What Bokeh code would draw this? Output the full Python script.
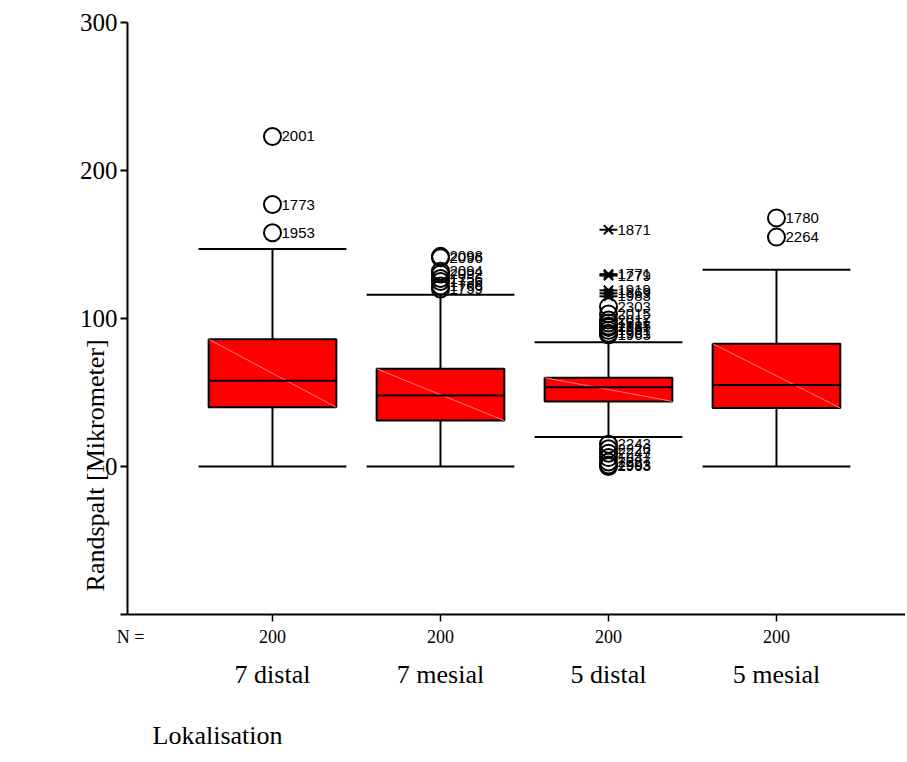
import math
import numpy as np
from bokeh.plotting import figure
from bokeh.models import Range1d, FixedTicker, LinearAxis, ColumnDataSource
from bokeh.core.properties import value
from bokeh.embed import file_html
from bokeh.resources import INLINE

# ---------------- data ----------------
categories = ["7 distal", "7 mesial", "5 distal", "5 mesial"]
n_values = [200, 200, 200, 200]
q1 = [40, 31, 44, 39.5]
median = [58, 48, 53.5, 55]
q3 = [86, 66, 60, 83]
whisker_low = [0, 0, 20, 0]
whisker_high = [147, 116, 84, 133]

# outliers (circles): group index, value, case id
out_group = [0, 0, 0,
             1, 1, 1, 1, 1, 1, 1, 1,
             2, 2, 2, 2, 2, 2, 2, 2, 2,
             2, 2, 2, 2, 2, 2, 2,
             3, 3]
out_value = [223, 177, 158,
             142, 141, 132, 130, 127, 125, 122, 120,
             108, 103, 99, 97, 95, 94, 92, 90, 89,
             15, 12, 9, 6, 3, 1, 0,
             168, 155]
out_id = ["2001", "1773", "1953",
          "2098", "2096", "2094", "2092", "1756", "1736", "1766", "1759",
          "2303", "2015", "2017", "1911", "1935", "2287", "1951", "1961", "1963",
          "2243", "2226", "2247", "1847", "2227", "1993", "2903",
          "1780", "2264"]

# extremes (asterisks)
ext_group = [2, 2, 2, 2, 2, 2]
ext_value = [160, 130, 129, 119, 117, 115]
ext_id = ["1871", "1771", "1279", "1919", "1869", "1983"]

y_ticks = [-100, 0, 100, 200, 300]
y_min, y_max = -100, 300
x_left, x_right = 0.137, 4.768

# ---------------- figure ----------------
p = figure(width=905, height=755, output_backend="svg", toolbar_location=None,
           x_range=Range1d(-0.619, 4.768), y_range=Range1d(-195.3, 314.9),
           min_border=0)
p.xaxis.visible = False
p.yaxis.visible = False
p.grid.visible = False
p.outline_line_color = None
p.background_fill_color = "white"
p.border_fill_color = "white"

serif = "Liberation Serif"

yax = LinearAxis(ticker=FixedTicker(ticks=y_ticks),
                 major_label_overrides={-100: ""},
                 fixed_location=x_left, bounds=(y_min, y_max))
yax.axis_line_width = 2
yax.major_tick_line_width = 2
yax.major_tick_out = 7
yax.major_tick_in = 0
yax.minor_tick_line_color = None
yax.major_label_text_font = serif
yax.major_label_text_font_size = "25px"
yax.major_label_text_color = "black"
yax.major_label_standoff = 3
p.add_layout(yax, "left")

xs = [i + 1 for i in range(len(categories))]
xax = LinearAxis(ticker=FixedTicker(ticks=xs),
                 major_label_overrides={x: str(n) for x, n in zip(xs, n_values)},
                 fixed_location=y_min, bounds=(x_left, x_right))
xax.axis_line_width = 2
xax.major_tick_line_width = 1.5
xax.major_tick_out = 7
xax.major_tick_in = 0
xax.minor_tick_line_color = None
xax.major_label_text_font = serif
xax.major_label_text_font_size = "18px"
xax.major_label_text_color = "black"
xax.major_label_standoff = 9
p.add_layout(xax, "below")

cax = LinearAxis(ticker=FixedTicker(ticks=xs),
                 major_label_overrides={x: c for x, c in zip(xs, categories)},
                 fixed_location=y_min, bounds=(x_left, x_right))
cax.axis_line_color = None
cax.major_tick_line_color = None
cax.minor_tick_line_color = None
cax.major_tick_out = 0
cax.major_tick_in = 0
cax.major_label_text_font = serif
cax.major_label_text_font_size = "26px"
cax.major_label_text_color = "black"
cax.major_label_standoff = 46
p.add_layout(cax, "below")

# ---------------- boxes ----------------
box_w = 0.76
cap_w = 0.88
xs_arr = np.array(xs, dtype=float)
src = ColumnDataSource(dict(x=xs_arr, q1=q1, q3=q3, med=median,
                            lo=whisker_low, hi=whisker_high,
                            left=xs_arr - box_w / 2, right=xs_arr + box_w / 2,
                            cl=xs_arr - cap_w / 2, cr=xs_arr + cap_w / 2))

p.segment(x0="x", y0="q3", x1="x", y1="hi", source=src, line_color="black", line_width=2)
p.segment(x0="x", y0="q1", x1="x", y1="lo", source=src, line_color="black", line_width=2)
p.segment(x0="cl", y0="hi", x1="cr", y1="hi", source=src, line_color="black", line_width=2)
p.segment(x0="cl", y0="lo", x1="cr", y1="lo", source=src, line_color="black", line_width=2)

p.quad(left="left", right="right", bottom="q1", top="q3", source=src,
       fill_color="#ff0000", line_color="black", line_width=2)
p.segment(x0="left", y0="q3", x1="right", y1="q1", source=src,
          line_color="#ff7a7a", line_width=1)
p.segment(x0="left", y0="med", x1="right", y1="med", source=src,
          line_color="black", line_width=2)

# ---------------- outliers ----------------
osrc = ColumnDataSource(dict(x=[g + 1 for g in out_group], y=out_value, t=out_id))
p.scatter(x="x", y="y", source=osrc, marker="circle", size=17,
          fill_color=None, line_color="black", line_width=2)
p.text(x="x", y="y", text="t", source=osrc, x_offset=9,
       text_font=value("Liberation Sans"), text_font_size="15px",
       text_baseline="middle", text_align="left", text_color="black")

esrc = ColumnDataSource(dict(x=[g + 1 for g in ext_group], y=ext_value, t=ext_id))
p.scatter(x="x", y="y", source=esrc, marker="x", size=13,
          line_color="black", line_width=2)
p.scatter(x="x", y="y", source=esrc, marker="dash", size=18,
          line_color="black", line_width=2)
p.text(x="x", y="y", text="t", source=esrc, x_offset=9,
       text_font=value("Liberation Sans"), text_font_size="15px",
       text_baseline="middle", text_align="left", text_color="black")

# ---------------- annotation texts ----------------
p.text(x=[0.155], y=[-115.5], text=["N ="], text_font=value(serif),
       text_font_size="18px", text_align="center", text_baseline="middle",
       text_color="black")
p.text(x=[0.286], y=[-181.8], text=["Lokalisation"], text_font=value(serif),
       text_font_size="26px", text_align="left", text_baseline="middle",
       text_color="black")
p.text(x=[-0.054], y=[0.7], text=["Randspalt [Mikrometer]"], text_font=value(serif),
       text_font_size="26px", text_align="center", text_baseline="middle",
       angle=math.pi / 2, text_color="black")

open("out.html", "w").write(file_html(p, INLINE))
